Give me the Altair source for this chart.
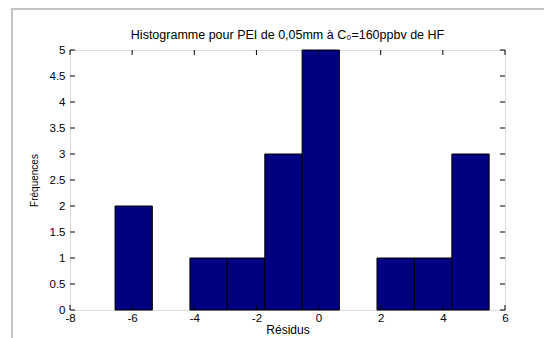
import altair as alt
import pandas as pd

# Histogram bins (edges) and counts
bin_start = [-6.55, -5.35, -4.14, -2.94, -1.73, -0.53, 0.67, 1.88, 3.08, 4.29]
bin_end = [-5.35, -4.14, -2.94, -1.73, -0.53, 0.67, 1.88, 3.08, 4.29, 5.49]
counts = [2, 0, 1, 1, 3, 5, 0, 1, 1, 3]

x_ticks = [-8, -6, -4, -2, 0, 2, 4, 6]
y_ticks = [0, 0.5, 1, 1.5, 2, 2.5, 3, 3.5, 4, 4.5, 5]

W, H = 435, 260
FONT = "Liberation Sans"

bars_df = pd.DataFrame({"b0": bin_start, "b1": bin_end, "n": counts})
bars_df = bars_df[bars_df["n"] > 0]
xt_df = pd.DataFrame({"t": x_ticks})
yt_df = pd.DataFrame({"t": y_ticks})

xscale = alt.Scale(domain=[-8, 6], nice=False, zero=False)
yscale = alt.Scale(domain=[0, 5], nice=False)

xaxis = alt.Axis(
    values=x_ticks, title="Résidus", ticks=False, grid=False,
    labelPadding=2, titlePadding=1, domain=False,
    labelOverlap=False, labelFlush=False, labelExpr="datum.value + ''",
    labelFont=FONT, labelFontSize=11.5, labelColor="#000000",
    titleFont=FONT, titleFontSize=12, titleFontWeight="normal", titleColor="#000000")
yaxis = alt.Axis(
    values=y_ticks, title="Fréquences", ticks=False, grid=False,
    labelPadding=5, titlePadding=10, domain=False,
    labelOverlap=False, labelFlush=False, labelExpr="datum.value + ''",
    labelFont=FONT, labelFontSize=11.5, labelColor="#000000",
    titleFont=FONT, titleFontSize=10, titleFontWeight="normal", titleColor="#000000")

bars = alt.Chart(bars_df).mark_bar(
    color="#000080", stroke="#000000", strokeWidth=1
).encode(
    x=alt.X("b0:Q", scale=xscale, axis=xaxis),
    x2="b1:Q",
    y=alt.Y("n:Q", scale=yscale, axis=yaxis),
    y2=alt.datum(0),
)

tick_style = dict(color="#000000", strokeWidth=1)
bottom = alt.Chart(xt_df).mark_rule(**tick_style).encode(
    x=alt.X("t:Q", scale=xscale, axis=xaxis), y=alt.value(H), y2=alt.value(H - 5))
top = alt.Chart(xt_df).mark_rule(**tick_style).encode(
    x=alt.X("t:Q", scale=xscale, axis=xaxis), y=alt.value(0), y2=alt.value(5))
left = alt.Chart(yt_df).mark_rule(**tick_style).encode(
    y=alt.Y("t:Q", scale=yscale, axis=yaxis), x=alt.value(0), x2=alt.value(5))
right = alt.Chart(yt_df).mark_rule(**tick_style).encode(
    y=alt.Y("t:Q", scale=yscale, axis=yaxis), x=alt.value(W), x2=alt.value(W - 5))

# light grey figure frame (left and top edges)
frame_df = pd.DataFrame({"k": [0]})
frame_left = alt.Chart(frame_df).mark_rule(color="#c4c4c4", strokeWidth=2).encode(
    x=alt.value(-58), y=alt.value(-42), y2=alt.value(H + 70))
frame_top = alt.Chart(frame_df).mark_rule(color="#c4c4c4", strokeWidth=2).encode(
    x=alt.value(-59), x2=alt.value(W + 80), y=alt.value(-41))

chart = alt.layer(bars, bottom, top, left, right, frame_left, frame_top).properties(
    width=W, height=H,
    title=alt.TitleParams(
        "Histogramme pour PEI de 0,05mm à C₀=160ppbv de HF",
        font=FONT, fontSize=12.5, fontWeight="normal", color="#000000",
        anchor="middle", offset=-34, frame="group"),
    autosize=alt.AutoSizeParams(type="none"),
    padding={"left": 62, "top": 42, "right": 39, "bottom": 28},
).configure_view(stroke="#000000", strokeWidth=1).configure(background="white")

chart.save("out.html", embed_options={"renderer": "svg", "actions": False})
